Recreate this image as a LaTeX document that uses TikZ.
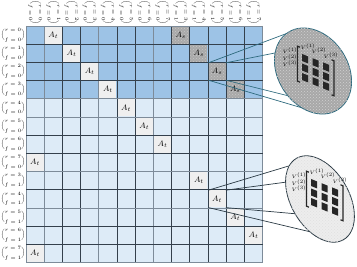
\documentclass[tikz,border=0pt]{standalone}
\usepackage{amsmath}
\usetikzlibrary{shapes.geometric,patterns}
\definecolor{rowdark}{HTML}{9DC3E6}
\definecolor{rowlight}{HTML}{DDEBF7}
\definecolor{gridhardc}{HTML}{34404C}
\definecolor{gridsoftc}{HTML}{7D8B99}
\definecolor{cellgray}{HTML}{A9A9A9}
\definecolor{celllight}{HTML}{EFEFEF}
\definecolor{zoomteal}{HTML}{2E6A7E}
\definecolor{zoomdark}{HTML}{2B3A44}
\tikzset{
  tcell/.style={fill=celllight, minimum size=17pt, inner sep=0pt, font=\footnotesize},
  scell/.style={tcell, fill=cellgray, postaction={pattern=crosshatch dots, pattern color=black!22}},
  rowlabel/.style={font=\fontsize{4.6}{5}\selectfont, inner sep=0pt},
  collabel/.style={rowlabel, rotate=-90},
  gridhard/.style={gridhardc, line width=0.9pt},
  gridsoft/.style={gridsoftc, line width=0.9pt},
  zoomlens/.style={ellipse, draw=zoomteal, line width=0.8pt, inner sep=0pt},
  zoomline/.style={zoomteal, line width=0.7pt},
  lensdot/.style={fill=black!85},
  lensbracket/.style={black!85, line width=1.2pt},
  zoomlabel/.style={font=\fontsize{4.4}{4.4}\selectfont, inner sep=0pt},
  lensmatrix/.pic={
    \begin{scope}[yslant=-0.4]
      \foreach \i in {0,1,2}
        \foreach \j in {0,1,2}
          \fill[lensdot] ({10.5*\i},{9.5*\j}) rectangle +(6,7);
      \draw[lensbracket] (-2,-6) -- (-4.5,-6) -- (-4.5,29) -- (-2,29);
      \draw[lensbracket] (29.5,-6) -- (32,-6) -- (32,29) -- (29.5,29);
      \node[zoomlabel] (-top1) at (6,-10) {$V^{(1)}$};
      \node[zoomlabel] (-top2) at (17,-10) {$V^{(2)}$};
      \node[zoomlabel] (-top3) at (29,-10) {$V^{(3)}$};
    \end{scope}
    \node[zoomlabel] (-left1) at (-12,-3) {$V^{(1)}$};
    \node[zoomlabel] (-left2) at (-12,3.5) {$V^{(2)}$};
    \node[zoomlabel] (-left3) at (-12,10) {$V^{(3)}$};
  }
}

\begin{document}
\begin{tikzpicture}[x=1pt,y=-1pt]
  \useasboundingbox (0,0) rectangle (357,267);
  % row bands
  \fill[rowdark] (26,26) rectangle (262.6,98.8);
  \fill[rowlight] (26,98.8) rectangle (262.6,262.6);
  % labelled cells
  \foreach \r/\c in {0/1,1/2,2/3,3/4,4/5,5/6,6/7,7/0,8/9,9/10,10/11,11/12,12/0}
    \node[tcell] (t\r) at ({26+18.2*(\c+0.5)},{26+18.2*(\r+0.5)}) {$A_t$};
  \foreach \r/\c in {0/8,1/9,2/10,3/11}
    \node[scell] (s\r) at ({26+18.2*(\c+0.5)},{26+18.2*(\r+0.5)}) {$A_s$};
  % grid
  \foreach \k in {2,3,5,6,8,9,10,11,12}
    \draw[gridhard] ({26+18.2*\k},26) -- ({26+18.2*\k},262.6);
  \foreach \k in {0,1,4,7,13}
    \draw[gridsoft] ({26+18.2*\k},26) -- ({26+18.2*\k},262.6);
  \foreach \k in {1,2,3,6,7,9,11,12}
    \draw[gridhard] (26,{26+18.2*\k}) -- (262.6,{26+18.2*\k});
  \foreach \k in {0,4,5,8,10,13}
    \draw[gridsoft] (26,{26+18.2*\k}) -- (262.6,{26+18.2*\k});
  % row and column labels
  \foreach \k/\rv/\fv in {0/0/0,1/1/0,2/2/0,3/3/0,4/4/0,5/5/0,6/6/0,7/7/0,8/3/1,9/4/1,10/5/1,11/6/1,12/7/1} {
    \node[rowlabel] (row\k) at (13,{26+18.2*(\k+0.5)}) {$\dbinom{r=\rv}{f=\fv}$};
    \node[collabel] (col\k) at ({26+18.2*(\k+0.5)},12.5) {$\dbinom{r=\rv}{f=\fv}$};
  }
  % zoom on A_s
  \coordinate (sA) at (296,30);
  \coordinate (sB) at (280,52);
  \coordinate (sC) at (316,112);
  \coordinate (sD) at (297,98);
  \draw[zoomline] (s2.north west) -- (sA);
  \draw[zoomline] (s2.north east) -- (sB);
  \draw[zoomline] (s2.south west) -- (sC);
  \draw[zoomline] (s2.south east) -- (sD);
  \node[zoomlens, fill=black!34, minimum width=70pt, minimum height=92pt, rotate=33,
        postaction={pattern=crosshatch dots, pattern color=black!18}] (lensS) at (313,71) {};
  \pic (mS) at (302,54) {lensmatrix};
  % zoom on A_t
  \coordinate (tA) at (292,165);
  \coordinate (tB) at (287,182);
  \coordinate (tC) at (311,232);
  \coordinate (tD) at (298,214);
  \draw[zoomline, zoomdark] (t9.north west) -- (tA);
  \draw[zoomline, zoomdark] (t9.north east) -- (tB);
  \draw[zoomline, zoomdark] (t9.south west) -- (tC);
  \draw[zoomline, zoomdark] (t9.south east) -- (tD);
  \node[zoomlens, draw=zoomdark, fill=black!7, minimum width=58pt, minimum height=94pt, rotate=30,
        postaction={pattern=crosshatch dots, pattern color=black!12}] (lensT) at (320,199) {};
  \pic (mT) at (311,179) {lensmatrix};
\end{tikzpicture}
\end{document}
